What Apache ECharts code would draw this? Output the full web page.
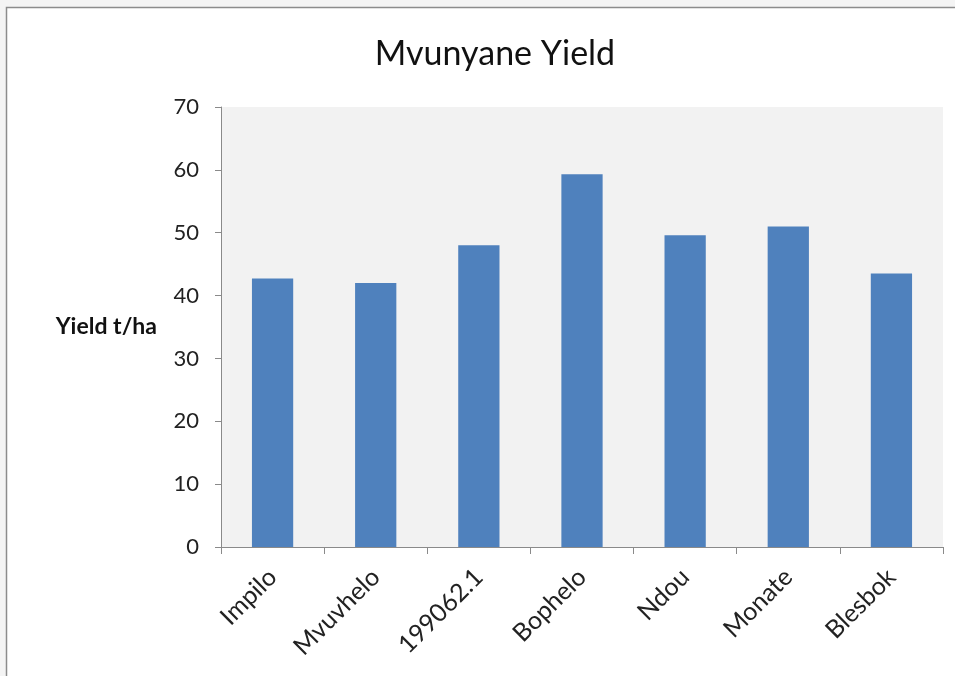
<!DOCTYPE html>
<html>
<head>
<meta charset="utf-8">
<script src="https://cdn.jsdelivr.net/npm/echarts@6/dist/echarts.min.js"></script>
<style>
  html, body { margin: 0; padding: 0; background: #f4f4f4; }
  #chart { width: 955px; height: 676px; }
</style>
</head>
<body>
<div id="chart"></div>
<script>
// Cultivars and their yields (t/ha) at Mvunyane
const cultivars = ['Impilo', 'Mvuvhelo', '199062.1', 'Bophelo', 'Ndou', 'Monate', 'Blesbok'];
const yields = [42.7, 42.0, 48.0, 59.3, 49.6, 51.0, 43.5];
const yTicks = { min: 0, max: 70, interval: 10 };

const FONT = 'Lato, "Open Sans", sans-serif';
const chart = echarts.init(document.getElementById('chart'));

chart.setOption({
  backgroundColor: '#f4f4f4',
  animation: false,
  graphic: [{
    type: 'rect',
    shape: { x: 6.5, y: 7.5, width: 1000, height: 700 },
    style: { fill: '#ffffff', stroke: '#8c8c8c', lineWidth: 1.5 },
    z: -10
  }],
  title: {
    text: 'Mvunyane Yield',
    left: 490,
    top: 32,
    textAlign: 'center',
    textStyle: { fontFamily: FONT, fontSize: 34, fontWeight: 'normal', color: '#111' }
  },
  grid: {
    left: 221, top: 107, right: 12, bottom: 129,
    show: true, backgroundColor: '#f2f2f2', borderWidth: 0
  },
  xAxis: {
    type: 'category',
    data: cultivars,
    axisLine: { lineStyle: { color: '#8a8a8a', width: 1 } },
    axisTick: { show: true, alignWithLabel: false, length: 7, lineStyle: { color: '#8a8a8a' } },
    axisLabel: { rotate: 45, fontFamily: FONT, fontSize: 25, color: '#222', margin: 26, interval: 0 }
  },
  yAxis: {
    type: 'value',
    min: yTicks.min, max: yTicks.max, interval: yTicks.interval,
    name: 'Yield t/ha',
    nameLocation: 'middle',
    nameRotate: 0,
    nameGap: 64,
    nameTextStyle: { fontFamily: FONT, fontSize: 23, fontWeight: 'bold', color: '#111', align: 'right' },
    axisLine: { show: true, lineStyle: { color: '#8a8a8a', width: 1 } },
    axisTick: { show: true, length: 6, lineStyle: { color: '#8a8a8a' } },
    axisLabel: { fontFamily: FONT, fontSize: 22, color: '#222', margin: 22 },
    splitLine: { show: false }
  },
  series: [{
    type: 'bar',
    data: yields,
    barWidth: '40%',
    itemStyle: { color: '#4f81bd' }
  }]
});
</script>
</body>
</html>
